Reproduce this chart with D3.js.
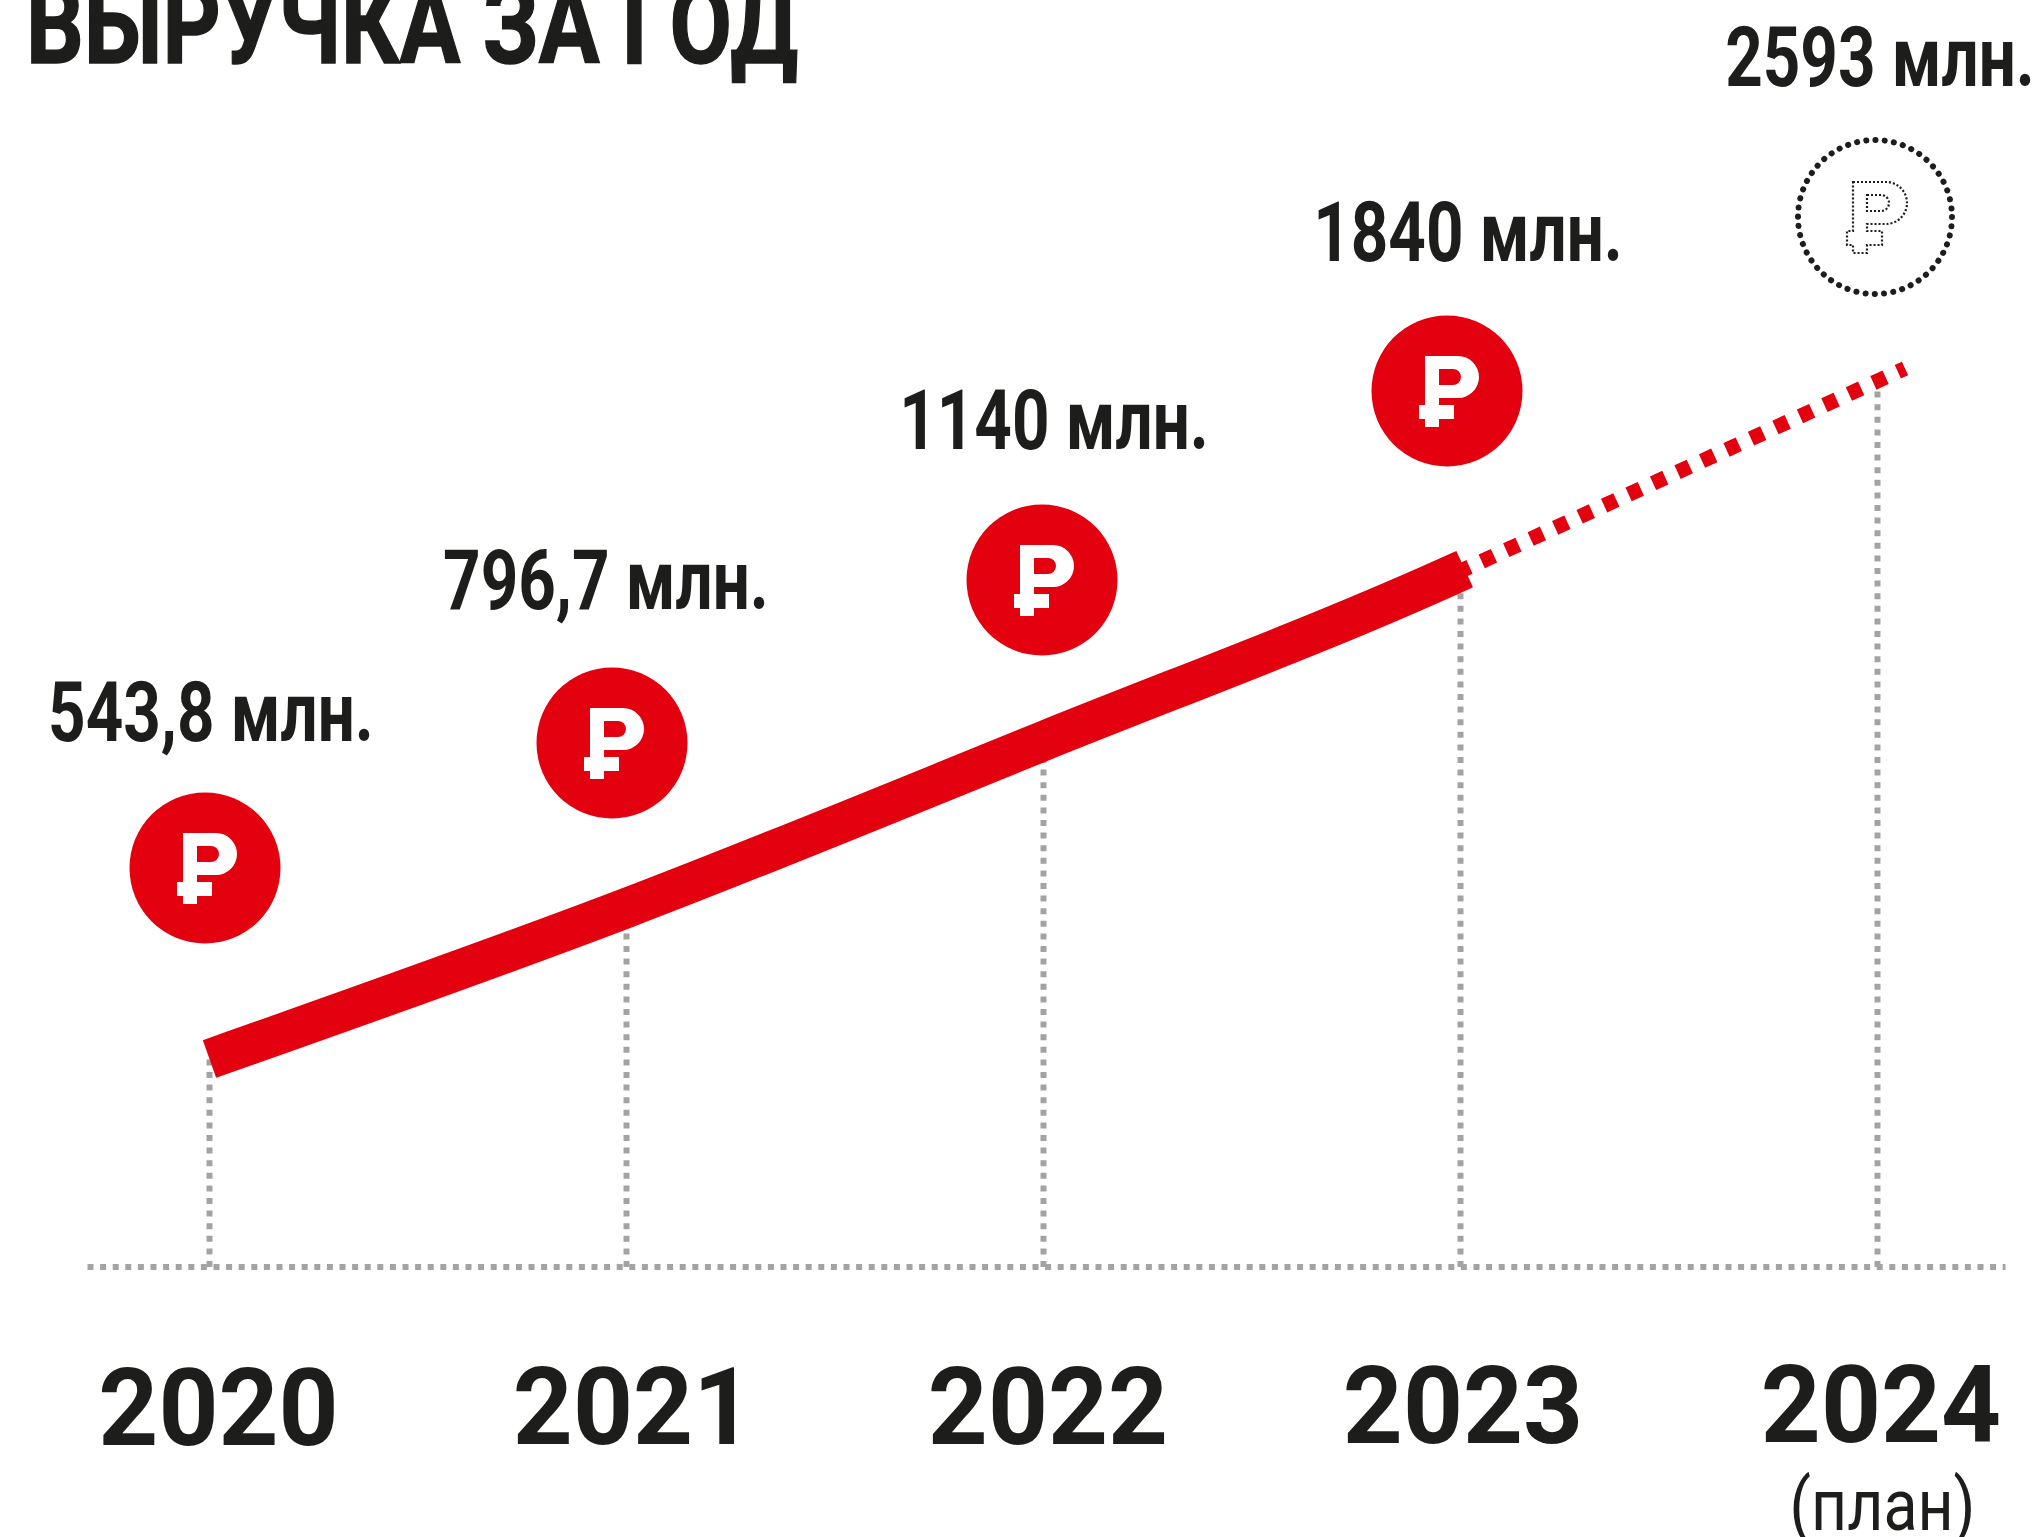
<!DOCTYPE html>
<html>
<head>
    <meta charset="utf-8">
    <script src="https://d3js.org/d3.v7.min.js"></script>
    <style>
        body {margin: 0; background: #fff; font-family: Roboto, Arial, sans-serif;}
        svg {display: block;}
        text {fill: #1d1d1b;}
        .title {font-size: 112px; font-weight: 700; stroke: #1d1d1b; stroke-width: 1.5px;}
        .value {font-size: 84px; font-weight: 700;}
        .year {font-size: 108px; font-weight: 700;}
        .plan {font-size: 72px; font-weight: 400;}
        .guide {stroke: #a3a3a2; stroke-width: 6px; stroke-dasharray: 6 6.6; fill: none;}
    </style>
</head>
<body>
    <svg width="2044" height="1537"></svg>
    <script>
        // Values
        const titleText = "ВЫРУЧКА ЗА ГОД";
        const years = [2020, 2021, 2022, 2023, 2024];
        const revenue = [543.8, 796.7, 1140, 1840, 2593];
        const valueLabels = ["543,8 млн.", "796,7 млн.", "1140 млн.", "1840 млн.", "2593 млн."];
        const planLabel = "(план)";
        const planYear = 2024;

        const red = "#e3000f";
        const svg = d3.select("svg");

        // The picture is not to scale, so revenue maps piecewise to height
        const x = d3.scaleLinear().domain([2020, 2024]).range([209.5, 1877.5]);
        const y = d3.scaleLinear().domain(revenue).range([1059, 908, 741, 571, 381]);
        const coinX = d3.scaleOrdinal().domain(years).range([205, 612, 1042, 1447, 1875]);
        const coinY = d3.scaleLinear().domain(revenue).range([868, 743, 580, 391, 217]);
        const labelX = d3.scaleOrdinal().domain(years).range([211, 606, 1054, 1468, 1880]);
        const labelY = d3.scaleLinear().domain(revenue).range([741, 609, 449, 261, 86]);
        const yearX = d3.scaleOrdinal().domain(years).range([218, 632.5, 1047.5, 1462.5, 1880.5]);
        const yearY = d3.scaleLinear().domain([2020, 2024]).range([1445, 1442]);
        const axisY = 1267;

        const points = years.map((year, i) => ({year: year, value: revenue[i], label: valueLabels[i]}));
        const actual = points.filter(d => d.year < planYear);
        const planned = points.filter(d => d.year >= planYear - 1);

        // squeeze text horizontally, the source face is a condensed one
        function condense(selection, factor) {
            selection.each(function() {
                const len = this.getComputedTextLength();
                d3.select(this).attr("textLength", len * factor).attr("lengthAdjust", "spacingAndGlyphs");
            });
        }

        svg.append("text")
            .attr("class", "title")
            .attr("x", 26)
            .attr("y", 63)
            .attr("textLength", 772)
            .attr("lengthAdjust", "spacingAndGlyphs")
            .text(titleText);

        // Baseline and guides
        svg.append("line")
            .attr("class", "guide")
            .attr("x1", x(2020) - 122)
            .attr("x2", x(2024) + 128)
            .attr("y1", axisY)
            .attr("y2", axisY);

        svg.selectAll(".drop")
            .data(points)
            .enter()
            .append("line")
            .attr("class", "guide drop")
            .attr("x1", d => x(d.year))
            .attr("x2", d => x(d.year))
            .attr("y1", axisY)
            .attr("y2", d => y(d.value));

        // Year labels through the axis generator
        const axis = d3.axisBottom(x)
            .tickValues(years)
            .tickFormat(d3.format("d"))
            .tickSize(0);
        const axisG = svg.append("g").attr("transform", `translate(0,${axisY})`).call(axis);
        axisG.select(".domain").remove();
        axisG.selectAll(".tick text")
            .attr("class", "year")
            .attr("fill", null)
            .attr("dx", d => yearX(d) - x(d))
            .attr("dy", 0)
            .attr("y", d => yearY(d) - axisY)
            .style("font-family", "Roboto")
            .call(condense, 0.97);
        axisG.attr("font-size", null).attr("font-family", null);

        svg.append("text")
            .attr("class", "plan")
            .attr("x", x(planYear) + 5)
            .attr("y", 1530)
            .attr("text-anchor", "middle")
            .text(planLabel)
            .call(condense, 0.87);

        // Revenue line, solid for facts and dashed for the plan
        const straight = d3.line().x(d => d[0]).y(d => d[1]);
        const smooth = d3.line().x(d => d[0]).y(d => d[1]).curve(d3.curveMonotoneX);
        const last = actual[actual.length - 1];
        const plan = planned[planned.length - 1];
        const past = t => [
            d3.interpolateNumber(x(last.year), x(plan.year))(t),
            d3.interpolateNumber(y(last.value), y(plan.value))(t)
        ];

        svg.append("path")
            .attr("d", straight(planned.map(d => [x(d.year), y(d.value)]).concat([past(1.066)])))
            .attr("fill", "none")
            .attr("stroke", red)
            .attr("stroke-width", 15)
            .attr("stroke-dasharray", "13.5 13.4")
            .attr("stroke-dashoffset", 3.6);

        svg.append("path")
            .attr("d", smooth(actual.map(d => [x(d.year), y(d.value)]).concat([past(0.01)])))
            .attr("fill", "none")
            .attr("stroke", red)
            .attr("stroke-width", 40);

        // Ruble coins
        const rubleSign = "M-22,-35 L11,-35 A21,21 0 0 1 11,7 L-8,7 L-8,14 L7,14 L7,28 L-8,28 L-8,36 L-22,36 L-22,28 L-28,28 L-28,14 L-22,14 Z" +
            " M-8,-22 L6,-22 A8,8 0 0 1 6,-6 L-8,-6 Z";

        const coins = svg.selectAll(".coin")
            .data(points)
            .enter()
            .append("g")
            .attr("class", "coin")
            .attr("transform", d => `translate(${coinX(d.year)},${coinY(d.value)})`);

        coins.append("circle")
            .attr("r", d => d.year === planYear ? 77 : 75.5)
            .attr("fill", d => d.year === planYear ? "none" : red)
            .attr("stroke", d => d.year === planYear ? "#1d1d1b" : "none")
            .attr("stroke-width", 6)
            .attr("stroke-linecap", "round")
            .attr("stroke-dasharray", d => d.year === planYear ? "0.1 9.2" : null);

        coins.append("path")
            .attr("d", rubleSign)
            .attr("fill-rule", "evenodd")
            .attr("fill", d => d.year === planYear ? "none" : "#fff")
            .attr("stroke", d => d.year === planYear ? "#1d1d1b" : "none")
            .attr("stroke-width", 2.2)
            .attr("stroke-dasharray", d => d.year === planYear ? "2 2" : null);

        // Value labels
        svg.selectAll(".value")
            .data(points)
            .enter()
            .append("text")
            .attr("class", "value")
            .attr("x", d => labelX(d.year))
            .attr("y", d => labelY(d.value))
            .attr("text-anchor", "middle")
            .text(d => d.label)
            .call(condense, 0.78);
    </script>
</body>
</html>
